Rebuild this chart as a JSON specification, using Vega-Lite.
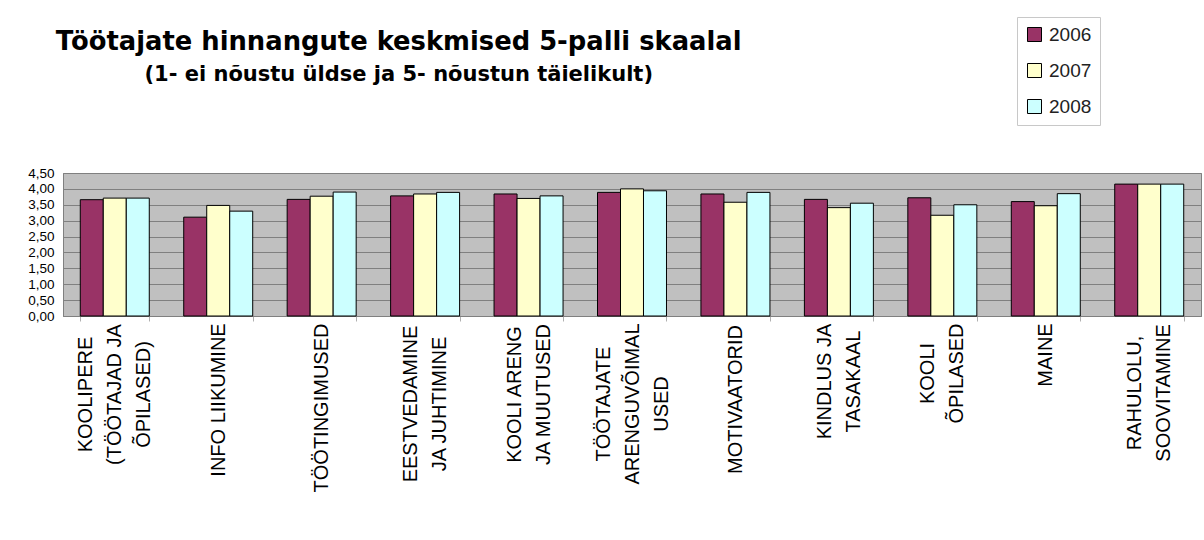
{
  "$schema": "https://vega.github.io/schema/vega-lite/v6.json",
  "autosize": {"type": "none"},
  "padding": {"left": 63, "top": 173, "right": 3, "bottom": 224},
  "width": 1138,
  "height": 143,
  "background": "white",
  "title": {
    "text": "Töötajate hinnangute keskmised 5-palli skaalal",
    "subtitle": "(1- ei nõustu üldse ja 5- nõustun täielikult)",
    "anchor": "start",
    "align": "center",
    "dx": 371,
    "dy": 69,
    "offset": 0,
    "font": "DejaVu Sans",
    "fontSize": 25.8,
    "fontWeight": "bold",
    "color": "black",
    "subtitleFont": "DejaVu Sans",
    "subtitleFontSize": 21,
    "subtitleFontWeight": "bold",
    "subtitleColor": "black",
    "subtitlePadding": 8
  },
  "data": {
    "values": [
      {"cat": "KOOLIPERE|(TÖÖTAJAD JA|ÕPILASED)", "year": "2006", "value": 3.66},
      {"cat": "KOOLIPERE|(TÖÖTAJAD JA|ÕPILASED)", "year": "2007", "value": 3.71},
      {"cat": "KOOLIPERE|(TÖÖTAJAD JA|ÕPILASED)", "year": "2008", "value": 3.71},
      {"cat": "INFO LIIKUMINE", "year": "2006", "value": 3.11},
      {"cat": "INFO LIIKUMINE", "year": "2007", "value": 3.48},
      {"cat": "INFO LIIKUMINE", "year": "2008", "value": 3.30},
      {"cat": "TÖÖTINGIMUSED", "year": "2006", "value": 3.67},
      {"cat": "TÖÖTINGIMUSED", "year": "2007", "value": 3.77},
      {"cat": "TÖÖTINGIMUSED", "year": "2008", "value": 3.90},
      {"cat": "EESTVEDAMINE|JA JUHTIMINE", "year": "2006", "value": 3.78},
      {"cat": "EESTVEDAMINE|JA JUHTIMINE", "year": "2007", "value": 3.84},
      {"cat": "EESTVEDAMINE|JA JUHTIMINE", "year": "2008", "value": 3.89},
      {"cat": "KOOLI ARENG|JA MUUTUSED", "year": "2006", "value": 3.84},
      {"cat": "KOOLI ARENG|JA MUUTUSED", "year": "2007", "value": 3.70},
      {"cat": "KOOLI ARENG|JA MUUTUSED", "year": "2008", "value": 3.78},
      {"cat": "TÖÖTAJATE|ARENGUVÕIMAL|USED", "year": "2006", "value": 3.89},
      {"cat": "TÖÖTAJATE|ARENGUVÕIMAL|USED", "year": "2007", "value": 4.00},
      {"cat": "TÖÖTAJATE|ARENGUVÕIMAL|USED", "year": "2008", "value": 3.94},
      {"cat": "MOTIVAATORID", "year": "2006", "value": 3.84},
      {"cat": "MOTIVAATORID", "year": "2007", "value": 3.58},
      {"cat": "MOTIVAATORID", "year": "2008", "value": 3.89},
      {"cat": "KINDLUS JA|TASAKAAL", "year": "2006", "value": 3.67},
      {"cat": "KINDLUS JA|TASAKAAL", "year": "2007", "value": 3.41},
      {"cat": "KINDLUS JA|TASAKAAL", "year": "2008", "value": 3.55},
      {"cat": "KOOLI|ÕPILASED", "year": "2006", "value": 3.72},
      {"cat": "KOOLI|ÕPILASED", "year": "2007", "value": 3.17},
      {"cat": "KOOLI|ÕPILASED", "year": "2008", "value": 3.50},
      {"cat": "MAINE", "year": "2006", "value": 3.60},
      {"cat": "MAINE", "year": "2007", "value": 3.47},
      {"cat": "MAINE", "year": "2008", "value": 3.85},
      {"cat": "RAHULOLU,|SOOVITAMINE", "year": "2006", "value": 4.15},
      {"cat": "RAHULOLU,|SOOVITAMINE", "year": "2007", "value": 4.15},
      {"cat": "RAHULOLU,|SOOVITAMINE", "year": "2008", "value": 4.15}
    ]
  },
  "mark": {"type": "bar", "stroke": "black", "strokeWidth": 1},
  "encoding": {
    "x": {
      "field": "cat",
      "type": "nominal",
      "sort": null,
      "scale": {"paddingInner": 0.333, "paddingOuter": 0.167},
      "axis": {
        "title": null,
        "labelAngle": 270,
        "labelAlign": "center",
        "labelBaseline": "middle",
        "labelFont": "Liberation Sans",
        "labelFontSize": 20,
        "labelColor": "black",
        "labelLineHeight": 29,
        "labelPadding": {
          "condition": [
            {"test": "datum.value == 'KOOLIPERE|(TÖÖTAJAD JA|ÕPILASED)'", "value": 73},
            {"test": "datum.value == 'INFO LIIKUMINE'", "value": 78.5},
            {"test": "datum.value == 'TÖÖTINGIMUSED'", "value": 86.5},
            {"test": "datum.value == 'EESTVEDAMINE|JA JUHTIMINE'", "value": 82.5},
            {"test": "datum.value == 'KOOLI ARENG|JA MUUTUSED'", "value": 73},
            {"test": "datum.value == 'TÖÖTAJATE|ARENGUVÕIMAL|USED'", "value": 82.5},
            {"test": "datum.value == 'MOTIVAATORID'", "value": 78},
            {"test": "datum.value == 'KINDLUS JA|TASAKAAL'", "value": 60},
            {"test": "datum.value == 'KOOLI|ÕPILASED'", "value": 52},
            {"test": "datum.value == 'MAINE'", "value": 33.5}
          ],
          "value": 71.5
        },
        "labelOffset": {
          "condition": [
            {"test": "length(split(datum.value, '|')) == 3", "value": -29},
            {"test": "length(split(datum.value, '|')) == 2", "value": -14.5}
          ],
          "value": 0
        },
        "labelLimit": 400,
        "labelExpr": "split(datum.label, '|')",
        "domainColor": "#808080",
        "tickColor": "#b0b0b0",
        "tickSize": 5,
        "tickBand": "extent",
        "grid": false
      }
    },
    "xOffset": {
      "field": "year",
      "type": "nominal",
      "scale": {"paddingInner": 0, "paddingOuter": 0}
    },
    "y": {
      "field": "value",
      "type": "quantitative",
      "scale": {"domain": [0, 4.5], "nice": false, "zero": true},
      "axis": {
        "title": null,
        "values": [0, 0.5, 1, 1.5, 2, 2.5, 3, 3.5, 4, 4.5],
        "labelExpr": "replace(format(datum.value, '.2f'), '.', ',')",
        "labelFont": "Liberation Sans",
        "labelFontSize": 13.5,
        "labelColor": "black",
        "labelPadding": 9,
        "ticks": false,
        "grid": true,
        "gridColor": "#808080",
        "gridWidth": 1,
        "domainColor": "#808080"
      }
    },
    "color": {
      "field": "year",
      "type": "nominal",
      "scale": {"domain": ["2006", "2007", "2008"], "range": ["#993366", "#FFFFCC", "#CCFFFF"]},
      "legend": {
        "title": null,
        "orient": "none",
        "legendX": 954,
        "legendY": -156,
        "symbolType": "square",
        "symbolSize": 196,
        "symbolStrokeColor": "black",
        "symbolStrokeWidth": 1,
        "symbolOpacity": 1,
        "labelFont": "Liberation Sans",
        "labelFontSize": 19,
        "labelColor": "#222222",
        "labelOffset": 5,
        "rowPadding": 16,
        "padding": 8,
        "strokeColor": "#c8c8c8"
      }
    }
  },
  "config": {
    "view": {"fill": "#c0c0c0", "stroke": "#808080"}
  }
}
